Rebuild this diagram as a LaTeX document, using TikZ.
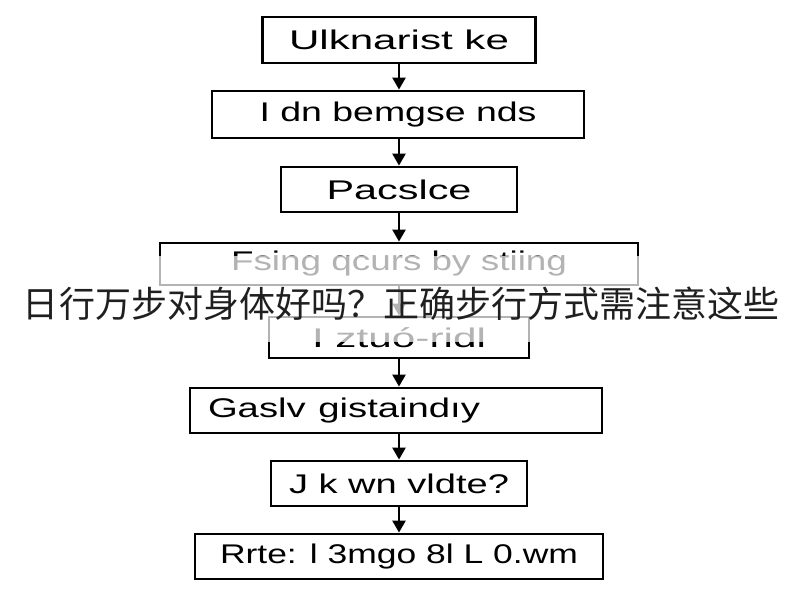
\documentclass[tikz,border=0pt]{standalone}
\usepackage{fontspec}
\setmainfont{Liberation Sans}
\newfontfamily\cjk{Noto Sans CJK SC}
\usetikzlibrary{arrows.meta}
\newsavebox\fitbox
\newcommand\fitto[2]{\sbox\fitbox{#2}\pgfmathsetmacro\fitfac{#1/\the\wd\fitbox}\scalebox{\fitfac}[1]{\usebox\fitbox}}
\begin{document}
\begin{tikzpicture}[x=1pt,y=-1pt,
  box/.style={draw, line width=2.8pt, inner sep=0pt, font=\fontsize{27pt}{32pt}\selectfont},
  flow/.style={line width=2.4pt, -{Triangle[width=13pt,length=12pt]}},
  titletext/.style={font=\cjk\fontsize{36pt}{42pt}\selectfont, text=black!88, inner sep=0pt}]
\useasboundingbox (0,0) rectangle (800,600);
\fill[white] (0,0) rectangle (800,600);
\node[box, minimum width=273pt, minimum height=46pt] (b1) at (399,40) {\fitto{220}{Ulknarist ke}};
\node[box, minimum width=372pt, minimum height=47pt] (b2) at (398,114.5) {\fitto{277}{I dn bemgse nds}};
\node[box, minimum width=236pt, minimum height=45pt] (b3) at (399,189.5) {\fitto{145}{Pacslce}};
\node[box, minimum width=478pt, minimum height=42pt] (b4) at (399,264) {\fitto{336}{Fsing qcurs by stiing}};
\node[box, minimum width=260pt, minimum height=41pt] (b5) at (399,337.5) {\fitto{174}{I ztuó-ridl}};
\node[box, minimum width=412pt, minimum height=45pt, text width=376pt, align=left, inner xsep=18pt] (b6) at (396,410.5) {\fitto{272}{Gaslv gistaindıy}};
\node[box, minimum width=256pt, minimum height=45pt] (b7) at (399,483.5) {\fitto{220}{J k wn vldte?}};
\node[box, minimum width=408pt, minimum height=45pt] (b8) at (399,556.5) {\fitto{358}{Rrte: l 3mgo 8l L 0.wm}};
\draw[flow] (b1.south) -- (b1.south |- b2.north);
\draw[flow] (b2.south -| b1.south) -- (b1.south |- b3.north);
\draw[flow] (b3.south) -- (b3.south |- b4.north);
\draw[flow] (b4.south) -- (b4.south |- b5.north);
\draw[flow] (b5.south) -- (b5.south |- b6.north);
\draw[flow] (b6.south -| b5.south) -- (b5.south |- b7.north);
\draw[flow] (b7.south) -- (b7.south |- b8.north);
\fill[white, opacity=0.7] (0,256) rectangle (800,342);
\node[titletext] (title) at (401,304) {日行万步对身体好吗？正确步行方式需注意这些};
\end{tikzpicture}
\end{document}
